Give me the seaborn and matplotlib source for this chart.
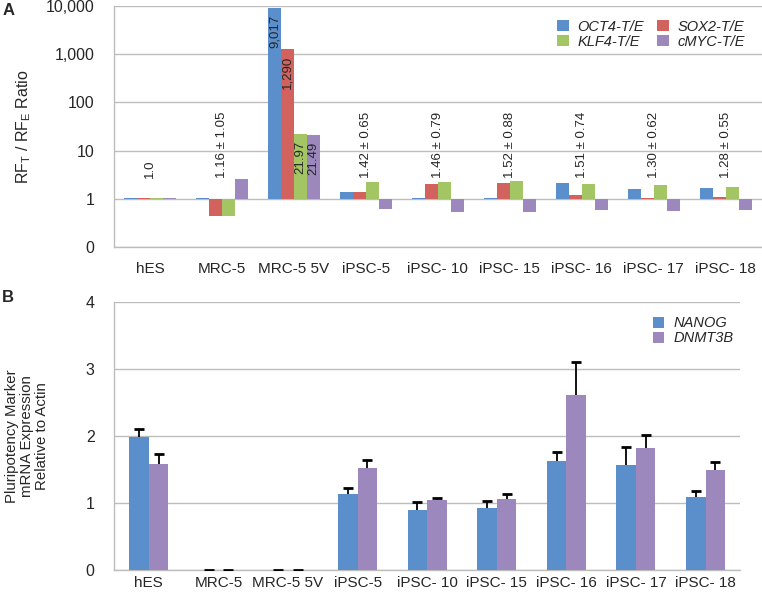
import numpy as np
import pandas as pd
import matplotlib
matplotlib.use('Agg')
import matplotlib.pyplot as plt
import seaborn as sns

cells = ['hES', 'MRC-5', 'MRC-5 5V', 'iPSC-5', 'iPSC- 10', 'iPSC- 15',
         'iPSC- 16', 'iPSC- 17', 'iPSC- 18']

# panel A: transgene / endogenous ratios
oct4 = [1.06, 1.05, 9017, 1.38, 1.05, 1.03, 2.15, 1.56, 1.64]
sox2 = [1.06, 0.43, 1290, 1.38, 2.02, 2.08, 1.21, 1.02, 1.08]
klf4 = [1.06, 0.43, 21.97, 2.18, 2.22, 2.37, 2.05, 1.96, 1.75]
cmyc = [1.06, 2.62, 21.49, 0.62, 0.52, 0.53, 0.59, 0.56, 0.57]
ratio_labels = ['1.0', '1.16 ± 1.05', '', '1.42 ± 0.65', '1.46 ± 0.79',
                '1.52 ± 0.88', '1.51 ± 0.74', '1.30 ± 0.62', '1.28 ± 0.55']
mrc5v_labels = ['9,017', '1,290', '21.97', '21.49']

# panel B: marker expression
nanog = [1.98, 0.0, 0.0, 1.13, 0.90, 0.93, 1.63, 1.57, 1.09]
nanog_err = [0.12, 0.0, 0.0, 0.09, 0.12, 0.10, 0.13, 0.27, 0.09]
dnmt3b = [1.58, 0.0, 0.0, 1.53, 1.05, 1.06, 2.61, 1.83, 1.49]
dnmt3b_err = [0.16, 0.0, 0.0, 0.12, 0.03, 0.07, 0.50, 0.19, 0.13]

genes_a = ['OCT4-T/E', 'SOX2-T/E', 'KLF4-T/E', 'cMYC-T/E']
genes_b = ['NANOG', 'DNMT3B']

blue = '#5B8FCB'
red = '#D2625D'
green = '#A3C563'
purple = '#9C88BD'
grid_col = '#BDBDBD'

sns.set_style('white')
plt.rcParams['font.family'] = ['Liberation Sans', 'DejaVu Sans']

fig = plt.figure(figsize=(7.62, 5.95), dpi=100)
ax1 = fig.add_axes([0.1496, 0.585, 0.85, 0.405])
ax2 = fig.add_axes([0.1496, 0.042, 0.822, 0.450])

# ---- panel A (log10 drawn in linear space so bars grow from 1)
df_a = pd.DataFrame({
    'cell': cells * 4,
    'gene': sum([[g] * len(cells) for g in genes_a], []),
    'value': oct4 + sox2 + klf4 + cmyc,
})
df_a['logv'] = np.log10(df_a['value'])
sns.barplot(data=df_a, x='cell', y='logv', hue='gene', hue_order=genes_a,
            palette=[blue, red, green, purple], width=0.72, errorbar=None,
            saturation=1, linewidth=0, ax=ax1, zorder=3)
ax1.set_ylim(-1, 4)
ax1.set_xlim(-0.5, len(cells) - 0.5)
ax1.set_yticks(range(-1, 5))
ax1.set_yticklabels(['0', '1', '10', '100', '1,000', '10,000'])
ax1.set_ylabel('RF$_\\mathregular{T}$ / RF$_\\mathregular{E}$ Ratio', fontsize=11.5)
ax1.yaxis.set_label_coords(-0.125, 0.5)
ax1.set_xlabel('')

for i, lab in enumerate(ratio_labels):
    if lab:
        ax1.text(i, 0.42, lab, rotation=90, ha='center', va='bottom', fontsize=9.5)

for cont, lab in zip(ax1.containers, mrc5v_labels):
    bar = cont.patches[2]
    ax1.text(bar.get_x() + bar.get_width() / 2, bar.get_height() - 0.14, lab,
             rotation=90, ha='center', va='top', fontsize=9.5)

h, l = ax1.get_legend_handles_labels()
order = [0, 2, 1, 3]
ax1.legend([h[k] for k in order], [l[k] for k in order], ncol=2, frameon=False,
           loc='upper right', bbox_to_anchor=(0.99, 0.985), prop={'style': 'italic', 'size': 10.5},
           handlelength=0.8, handleheight=0.8, handletextpad=0.6, columnspacing=0.9,
           labelspacing=0.05, borderpad=0.2)

# ---- panel B
df_b = pd.DataFrame({
    'cell': cells * 2,
    'gene': [genes_b[0]] * len(cells) + [genes_b[1]] * len(cells),
    'value': nanog + dnmt3b,
})
sns.barplot(data=df_b, x='cell', y='value', hue='gene', hue_order=genes_b,
            palette=[blue, purple], width=0.56, errorbar=None, saturation=1,
            linewidth=0, ax=ax2, zorder=3)
for cont, err in zip(ax2.containers, [nanog_err, dnmt3b_err]):
    xs = [p.get_x() + p.get_width() / 2 for p in cont.patches]
    ys = [p.get_height() for p in cont.patches]
    eb = ax2.errorbar(xs, ys, yerr=[np.zeros(len(err)), err], fmt='none', ecolor='black',
                      elinewidth=1.3, capsize=3.5, capthick=2, zorder=4)
    eb[1][0].set_visible(False)  # only the upper cap, like the original
ax2.set_ylim(0, 4)
ax2.set_xlim(-0.5, len(cells) - 0.5)
ax2.set_yticks(range(0, 5))
ax2.set_ylabel('Pluripotency Marker\nmRNA Expression\nRelative to Actin', fontsize=10.8,
               linespacing=1.1)
ax2.yaxis.set_label_coords(-0.103, 0.5)
ax2.set_xlabel('')
ax2.legend(frameon=False, loc='upper right', bbox_to_anchor=(1.005, 0.985),
           prop={'style': 'italic', 'size': 10.5}, handlelength=0.8, handleheight=0.8,
           handletextpad=0.6, labelspacing=0.05, borderpad=0.2)

for ax in (ax1, ax2):
    ax.yaxis.grid(True, color=grid_col, linewidth=1, zorder=0)
    ax.set_axisbelow(True)
    for s in ['top', 'right']:
        ax.spines[s].set_visible(False)
    for s in ['left', 'bottom']:
        ax.spines[s].set_color(grid_col)
        ax.spines[s].set_linewidth(1)
    ax.tick_params(axis='y', length=0, labelsize=11.5, pad=14)
    ax.set_xticks(np.arange(-0.5, len(cells), 1), minor=True)
    ax.tick_params(axis='x', which='minor', length=4, color=grid_col, width=1)

ax1.tick_params(axis='x', which='major', length=0, labelsize=11, pad=11)
ax2.tick_params(axis='x', which='major', length=0, labelsize=11, pad=4)

fig.text(0.003, 0.975, 'A', fontsize=12, fontweight='bold')
fig.text(0.003, 0.492, 'B', fontsize=12, fontweight='bold')

fig.savefig('out.png', dpi=100)
